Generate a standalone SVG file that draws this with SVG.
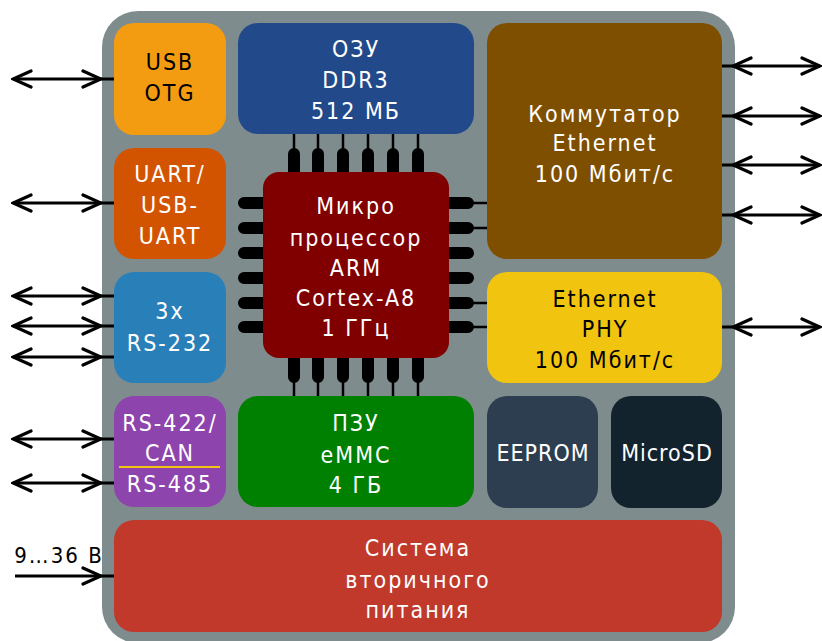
<svg xmlns="http://www.w3.org/2000/svg" width="822" height="641" viewBox="0 0 822 641">
<style>
text{font-family:"DejaVu Sans Condensed","DejaVu Sans",sans-serif;font-size:23px;text-anchor:middle;letter-spacing:2px;font-weight:300}
.w{fill:#ffffff}
.b{fill:#000000}
.pin{stroke:#000;stroke-width:12;stroke-linecap:round}
.thin{stroke:#000;stroke-width:2.5;fill:none}
.arr{stroke:#000;stroke-width:3;fill:none}
</style>
<defs>
<marker id="a" markerUnits="userSpaceOnUse" viewBox="0 0 22 20" refX="20" refY="10" markerWidth="22" markerHeight="20" orient="auto-start-reverse">
<path d="M2,2 L20,10 L2,18" fill="none" stroke="#000" stroke-width="3.2" stroke-linecap="round"/>
</marker>
</defs>
<rect x="102" y="11" width="633" height="632" rx="36" fill="#7f8c8d"/>

<g id="connectors">
<path class="arr" d="M13,79 L101,79 L114,79" marker-start="url(#a)" marker-mid="url(#a)"/>
<path class="arr" d="M13,203 L101,203 L114,203" marker-start="url(#a)" marker-mid="url(#a)"/>
<path class="arr" d="M13,296 L101,296 L114,296" marker-start="url(#a)" marker-mid="url(#a)"/>
<path class="arr" d="M13,326 L101,326 L114,326" marker-start="url(#a)" marker-mid="url(#a)"/>
<path class="arr" d="M13,357 L101,357 L114,357" marker-start="url(#a)" marker-mid="url(#a)"/>
<path class="arr" d="M13,439 L101,439 L114,439" marker-start="url(#a)" marker-mid="url(#a)"/>
<path class="arr" d="M13,483 L101,483 L114,483" marker-start="url(#a)" marker-mid="url(#a)"/>
<path class="arr" d="M15,576 L101,576 L114,576" marker-mid="url(#a)"/>
<path class="arr" d="M820,66 L733,66 L722,66" marker-start="url(#a)" marker-mid="url(#a)"/>
<path class="arr" d="M820,116 L733,116 L722,116" marker-start="url(#a)" marker-mid="url(#a)"/>
<path class="arr" d="M820,165 L733,165 L722,165" marker-start="url(#a)" marker-mid="url(#a)"/>
<path class="arr" d="M820,215 L733,215 L722,215" marker-start="url(#a)" marker-mid="url(#a)"/>
<path class="arr" d="M820,327 L733,327 L722,327" marker-start="url(#a)" marker-mid="url(#a)"/>
<path class="thin" d="M294,134V150M318,134V150M343,134V150M368,134V150M393,134V150M418,134V150"/>
<path class="thin" d="M294,380V396M318,380V396M343,380V396M368,380V396M393,380V396M418,380V396"/>
<path class="thin" d="M470,203H487M470,228H487M470,303H487M470,327H487"/>
</g>
<text x="59" y="563" class="b" style="font-size:22px">9…36 В</text>

<g id="usb-otg">
<rect x="114" y="23" width="112" height="112" rx="20" fill="#f39c12"/>
<text x="170" y="70" class="b">USB</text>
<text x="170" y="101" class="b">OTG</text>
</g>
<g id="uart">
<rect x="114" y="148" width="112" height="111" rx="20" fill="#d35400"/>
<text x="170" y="182" class="w">UART/</text>
<text x="170" y="213" class="w">USB-</text>
<text x="170" y="244" class="w">UART</text>
</g>
<g id="rs232">
<rect x="114" y="272" width="112" height="111" rx="20" fill="#2980b9"/>
<text x="170" y="319" class="w">3x</text>
<text x="170" y="351" class="w">RS-232</text>
</g>
<g id="rs422">
<rect x="114" y="396" width="112" height="111" rx="20" fill="#8e44ad"/>
<text x="170" y="431" class="w">RS-422/</text>
<text x="170" y="461" class="w">CAN</text>
<line x1="119" y1="467" x2="220" y2="467" stroke="#f1c40f" stroke-width="2"/>
<text x="170" y="492" class="w">RS-485</text>
</g>
<g id="ozu">
<rect x="238" y="23" width="236" height="111" rx="20" fill="#22498a"/>
<text x="356" y="57" class="w">ОЗУ</text>
<text x="356" y="88" class="w">DDR3</text>
<text x="356" y="119" class="w">512 МБ</text>
</g>
<g id="cpu">
<path class="pin" d="M294,154V178M318,154V178M343,154V178M368,154V178M393,154V178M418,154V178"/>
<path class="pin" d="M294,352V377M318,352V377M343,352V377M368,352V377M393,352V377M418,352V377"/>
<path class="pin" d="M244,203H270M244,228H270M244,253H270M244,278H270M244,303H270M244,327H270"/>
<path class="pin" d="M442,203H468M442,228H468M442,253H468M442,278H468M442,303H468M442,327H468"/>
<rect x="263" y="172" width="186" height="186" rx="16" fill="#800000"/>
<text x="356" y="214" class="w">Микро</text>
<text x="356" y="246" class="w">процессор</text>
<text x="356" y="276" class="w">ARM</text>
<text x="356" y="306" class="w">Cortex-A8</text>
<text x="356" y="336" class="w">1 ГГц</text>
</g>
<g id="pzu">
<rect x="238" y="396" width="236" height="111" rx="20" fill="#008000"/>
<text x="356" y="431" class="w">ПЗУ</text>
<text x="356" y="463" class="w">eMMC</text>
<text x="356" y="493" class="w">4 ГБ</text>
</g>
<g id="switch">
<rect x="487" y="23" width="235" height="236" rx="20" fill="#7f4f00"/>
<text x="605" y="122" class="w">Коммутатор</text>
<text x="605" y="151" class="w">Ethernet</text>
<text x="605" y="182" class="w">100 Мбит/с</text>
</g>
<g id="phy">
<rect x="487" y="272" width="235" height="111" rx="20" fill="#f1c40f"/>
<text x="605" y="307" class="b">Ethernet</text>
<text x="605" y="337" class="b">PHY</text>
<text x="605" y="368" class="b">100 Мбит/с</text>
</g>
<g id="eeprom">
<rect x="487" y="396" width="111" height="112" rx="20" fill="#2c3e50"/>
<text x="543" y="461" class="w" style="letter-spacing:1px">EEPROM</text>
</g>
<g id="microsd">
<rect x="611" y="396" width="111" height="112" rx="20" fill="#12232e"/>
<text x="667" y="461" class="w" style="letter-spacing:1px">MicroSD</text>
</g>
<g id="power">
<rect x="114" y="520" width="608" height="112" rx="20" fill="#c0392b"/>
<text x="418" y="556" class="w">Система</text>
<text x="418" y="588" class="w">вторичного</text>
<text x="418" y="618" class="w">питания</text>
</g>
</svg>
